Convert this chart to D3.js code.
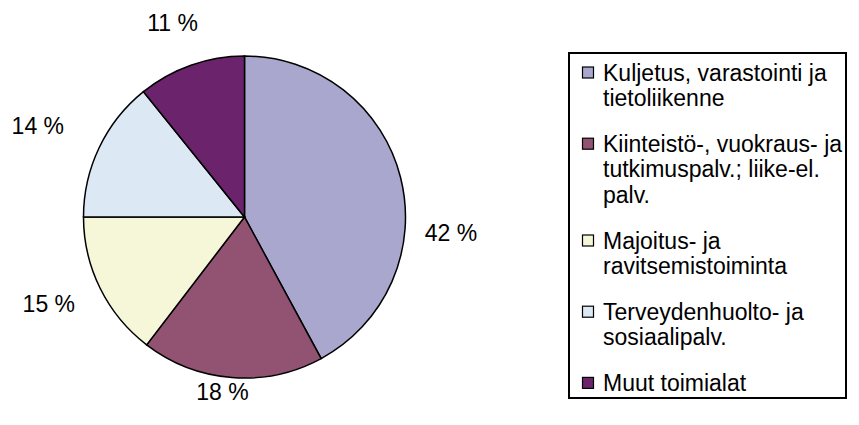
<!DOCTYPE html>
<meta charset="utf-8">
<html>
<style>
	body { margin: 0; background: #fff; }
	text { font-family: "Liberation Sans", Arial, sans-serif; fill: #000; }
	.slice { stroke: #000; stroke-width: 1.5px; }
</style>
<body>
	<script src="https://d3js.org/d3.v7.min.js"></script>
	<script type="text/javascript">
		// data
		var categories = [
			["Kuljetus, varastointi ja", "tietoliikenne"],
			["Kiinteistö-, vuokraus- ja", "tutkimuspalv.; liike-el.", "palv."],
			["Majoitus- ja", "ravitsemistoiminta"],
			["Terveydenhuolto- ja", "sosiaalipalv."],
			["Muut toimialat"]
		];
		var values = [42.1, 18.3, 14.6, 14.2, 10.8];
		var colors = ["#A9A7CD", "#925272", "#F6F7D9", "#DCE9F5", "#6B246B"];

		var width = 859, height = 425;
		var cx = 244.5, cy = 217, r = 161;
		var fontSize = 23, legendFont = 23;

		// label placement tweaks (degrees, px) to follow the original layout
		var labelR = 207;
		var labelNudge = [[18.5, 0], [2.7, -31], [2.4, 7], [-1.7, 19], [-0.9, 0]];

		var svg = d3.select("body")
			.append("svg")
			.attr("width", width)
			.attr("height", height);

		var pie = d3.pie().sort(null).value(function (d) { return d; });
		var arcs = pie(values);

		var arc = d3.arc().innerRadius(0).outerRadius(r);

		var g = svg.append("g").attr("transform", "translate(" + cx + "," + cy + ")");

		g.selectAll(".slice")
			.data(arcs)
			.enter().append("path")
			.attr("class", "slice")
			.attr("d", arc)
			.attr("fill", function (d, i) { return colors[i]; });

		//percent labels
		g.selectAll(".lbl")
			.data(arcs)
			.enter().append("text")
			.attr("class", "lbl")
			.attr("text-anchor", "middle")
			.attr("dy", "0.35em")
			.style("font-size", fontSize + "px")
			.attr("transform", function (d, i) {
				var a = (d.startAngle + d.endAngle) / 2 + labelNudge[i][0] * Math.PI / 180;
				var rr = labelR + labelNudge[i][1];
				return "translate(" + (Math.sin(a) * rr) + "," + (-Math.cos(a) * rr) + ")";
			})
			.text(function (d) { return Math.round(d.value) + " %"; });

		//legend
		var legend = svg.append("g");
		legend.append("rect")
			.attr("x", 569).attr("y", 53)
			.attr("width", 277).attr("height", 345)
			.attr("fill", "#fff")
			.attr("stroke", "#000")
			.attr("stroke-width", 2);

		var lineH = 25.6, gap = 20, y0 = 80.5;
		var ys = [];
		categories.forEach(function (c, i) {
			ys.push(y0);
			y0 += c.length * lineH + gap;
		});

		var item = legend.selectAll(".item")
			.data(categories)
			.enter().append("g")
			.attr("class", "item")
			.attr("transform", function (d, i) { return "translate(0," + ys[i] + ")"; });

		item.append("rect")
			.attr("x", 582.5).attr("y", -13.5)
			.attr("width", 11).attr("height", 11)
			.attr("fill", function (d, i) { return colors[i]; })
			.attr("stroke", "#000")
			.attr("stroke-width", 1.2);

		item.append("text")
			.style("font-size", legendFont + "px")
			.selectAll("tspan")
			.data(function (d) { return d; })
			.enter().append("tspan")
			.attr("x", 603)
			.attr("y", function (d, j) { return j * lineH; })
			.text(function (d) { return d; });
	</script>
</body>
</html>
